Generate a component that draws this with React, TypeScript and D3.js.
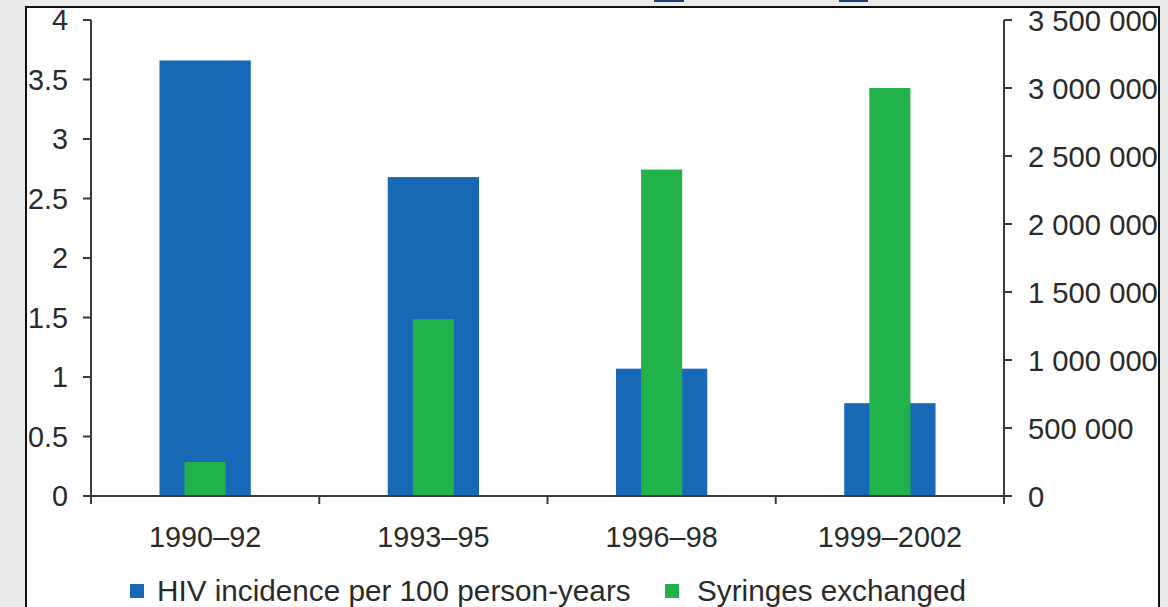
import React from "react";
import * as d3 from "d3";

const categories = ["1990–92", "1993–95", "1996–98", "1999–2002"];
const hivIncidence = [3.66, 2.68, 1.07, 0.78];
const syringesExchanged = [250000, 1300000, 2400000, 3000000];
const leftTicks = [0, 0.5, 1, 1.5, 2, 2.5, 3, 3.5, 4];
const rightTicks = [0, 500000, 1000000, 1500000, 2000000, 2500000, 3000000, 3500000];
const legendLabels = ["HIV incidence per 100 person-years", "Syringes exchanged"];

const W = 1168;
const H = 607;
const BLUE = "#1769b5";
const GREEN = "#21b24b";
const AXIS = "#3a3a3a";
const TEXT = "#2a2a2a";
const FONT = "'Liberation Sans', Arial, Helvetica, sans-serif";

export default function App() {
  const x = d3.scaleBand<string>().domain(categories).range([91, 1004]).paddingInner(0).paddingOuter(0);
  const yL = d3.scaleLinear().domain([0, 4]).range([496, 20]);
  const yR = d3.scaleLinear().domain([0, 3500000]).range([496, 20]);
  const bw = x.bandwidth();
  const blueW = bw * 0.4;
  const greenW = bw * 0.18;
  const fmtR = (v: number) => d3.format(",")(v).replace(/,/g, " ");
  const fmtL = (v: number) => String(v);
  const boundaries = [...categories.map((c) => x(c) as number), 1004];

  return (
    <svg
      width={W}
      height={H}
      style={{ position: "absolute", left: 0, top: 0, display: "block" }}
      fontFamily={FONT}
    >
      <defs>
        <clipPath id="panel">
          <rect x={27} y={8} width={1131} height={H} />
        </clipPath>
      </defs>
      <rect x={0} y={0} width={W} height={H} fill="#ebebeb" />
      <rect x={26} y={7} width={1133} height={H} fill="#ffffff" />
      <rect x={654} y={0} width={30} height={2} fill="#1e3f73" />
      <rect x={839} y={0} width={29} height={2} fill="#1e3f73" />

      <g clipPath="url(#panel)">
        {categories.map((c, i) => {
          const cx = (x(c) as number) + bw / 2;
          return (
            <g key={c}>
              <rect
                x={cx - blueW / 2}
                y={yL(hivIncidence[i])}
                width={blueW}
                height={yL(0) - yL(hivIncidence[i])}
                fill={BLUE}
              />
              <rect
                x={cx - greenW / 2}
                y={yR(syringesExchanged[i])}
                width={greenW}
                height={yR(0) - yR(syringesExchanged[i])}
                fill={GREEN}
              />
            </g>
          );
        })}

        <line x1={91} x2={91} y1={yL(4)} y2={504} stroke={AXIS} strokeWidth={2} />
        {leftTicks.map((t) => (
          <g key={"l" + t}>
            <line x1={83} x2={91} y1={yL(t)} y2={yL(t)} stroke={AXIS} strokeWidth={2} />
            <text x={68} y={yL(t)} dy="0.36em" textAnchor="end" fontSize={28.8} fill={TEXT}>
              {fmtL(t)}
            </text>
          </g>
        ))}

        <line x1={1004} x2={1004} y1={yR(3500000)} y2={504} stroke={AXIS} strokeWidth={2} />
        {rightTicks.map((t) => (
          <g key={"r" + t}>
            <line x1={1004} x2={1012} y1={yR(t)} y2={yR(t)} stroke={AXIS} strokeWidth={2} />
            <text x={1028} y={yR(t)} dy="0.36em" textAnchor="start" fontSize={29.2} fill={TEXT}>
              {fmtR(t)}
            </text>
          </g>
        ))}

        <line x1={83} x2={1012} y1={496} y2={496} stroke={AXIS} strokeWidth={2} />
        {boundaries.map((b, i) => (
          <line key={"b" + i} x1={b} x2={b} y1={496} y2={504} stroke={AXIS} strokeWidth={2} />
        ))}
        {categories.map((c) => (
          <text
            key={"c" + c}
            x={(x(c) as number) + bw / 2}
            y={547}
            textAnchor="middle"
            fontSize={28.8}
            fill={TEXT}
          >
            {c}
          </text>
        ))}

        <rect x={130} y={584} width={14} height={14} fill={BLUE} />
        <text x={157} y={601} fontSize={29.7} fill={TEXT}>
          {legendLabels[0]}
        </text>
        <rect x={665} y={584} width={14} height={14} fill={GREEN} />
        <text x={697} y={601} fontSize={29.7} fill={TEXT}>
          {legendLabels[1]}
        </text>
      </g>

      <line x1={26} x2={26} y1={6} y2={H} stroke="#111" strokeWidth={2} />
      <line x1={25} x2={1160} y1={7} y2={7} stroke="#111" strokeWidth={2} />
      <line x1={1159} x2={1159} y1={6} y2={H} stroke="#111" strokeWidth={2} />
    </svg>
  );
}
